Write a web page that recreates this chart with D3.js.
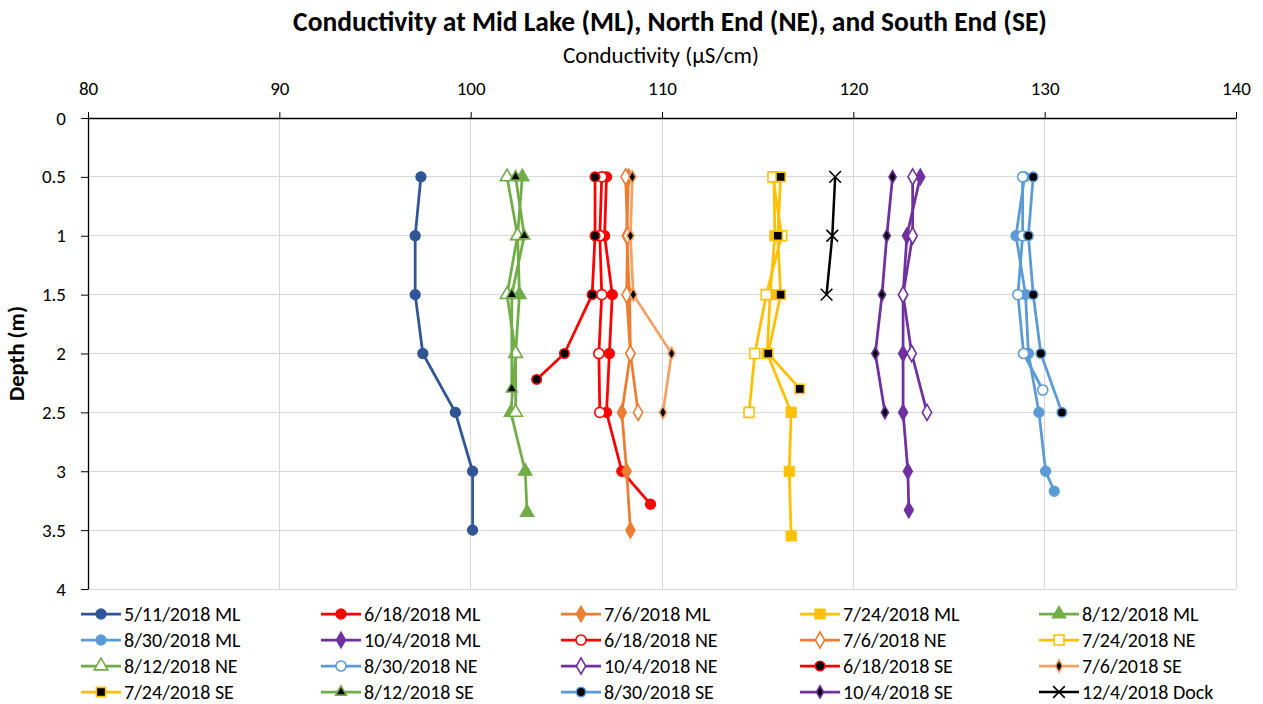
<!DOCTYPE html>
<html><head><meta charset="utf-8">
<script src="https://cdn.jsdelivr.net/npm/d3@7"></script>
<style>
html,body{margin:0;padding:0;background:#fff;}
svg text{font-family:Carlito, Calibri, Lato, sans-serif;fill:#000;}
</style></head>
<body><svg id="chart" width="1263" height="704"></svg>
<script>
// ---------- data ----------
const xTicks = [80, 90, 100, 110, 120, 130, 140];
const yTicks = [0, 0.5, 1, 1.5, 2, 2.5, 3, 3.5, 4];

const depth511ML = [0.5, 1, 1.5, 2, 2.5, 3, 3.5];
const cond511ML  = [97.4, 97.1, 97.1, 97.5, 99.2, 100.1, 100.1];

const depth618ML = [0.5, 1, 1.5, 2, 2.5, 3, 3.28];
const cond618ML  = [107.1, 107.0, 107.4, 107.25, 107.1, 107.9, 109.4];

const depth706ML = [0.5, 1, 1.5, 2, 2.5, 3, 3.5];
const cond706ML  = [108.25, 108.15, 108.3, 108.35, 107.9, 108.15, 108.35];

const depth724ML = [0.5, 1, 1.5, 2, 2.5, 3, 3.55];
const cond724ML  = [115.85, 115.9, 115.65, 115.5, 116.75, 116.65, 116.75];

const depth812ML = [0.5, 1, 1.5, 2, 2.5, 3, 3.35];
const cond812ML  = [102.7, 102.45, 102.55, 102.35, 102.1, 102.85, 102.95];

const depth830ML = [0.5, 1, 1.5, 2, 2.5, 3, 3.17];
const cond830ML  = [128.95, 128.5, 129.0, 129.15, 129.7, 130.05, 130.5];

const depth1004ML = [0.5, 1, 1.5, 2, 2.5, 3, 3.33];
const cond1004ML  = [123.5, 122.8, 122.6, 122.6, 122.6, 122.85, 122.9];

const depth618NE = [0.5, 1, 1.5, 2, 2.5];
const cond618NE  = [106.85, 106.75, 106.85, 106.7, 106.75];

const depth706NE = [0.5, 1, 1.5, 2, 2.5];
const cond706NE  = [108.1, 108.2, 108.15, 108.35, 108.75];

const depth724NE = [0.5, 1, 1.5, 2, 2.5];
const cond724NE  = [115.8, 116.25, 115.45, 114.85, 114.55];

const depth812NE = [0.5, 1, 1.5, 2, 2.5];
const cond812NE  = [101.9, 102.45, 101.9, 102.35, 102.35];

const depth830NE = [0.5, 1, 1.5, 2, 2.31];
const cond830NE  = [128.85, 128.85, 128.6, 128.9, 129.9];

const depth1004NE = [0.5, 1, 1.5, 2, 2.5];
const cond1004NE  = [123.1, 123.1, 122.6, 123.05, 123.85];

const depth618SE = [0.5, 1, 1.5, 2, 2.22];
const cond618SE  = [106.5, 106.5, 106.35, 104.9, 103.45];

const depth706SE = [0.5, 1, 1.5, 2, 2.5];
const cond706SE  = [108.45, 108.35, 108.5, 110.5, 110.05];

const depth724SE = [0.5, 1, 1.5, 2, 2.3];
const cond724SE  = [116.2, 116.05, 116.2, 115.55, 117.2];

const depth812SE = [0.5, 1, 1.5, 2.3];
const cond812SE  = [102.35, 102.8, 102.15, 102.15];

const depth830SE = [0.5, 1, 1.5, 2, 2.5];
const cond830SE  = [129.4, 129.15, 129.4, 129.8, 130.9];

const depth1004SE = [0.5, 1, 1.5, 2, 2.5];
const cond1004SE  = [122.05, 121.75, 121.5, 121.15, 121.65];

const depthDock = [0.5, 1, 1.5];
const condDock  = [119.05, 118.9, 118.6];

const seriesNames = ["5/11/2018 ML","6/18/2018 ML","7/6/2018 ML","7/24/2018 ML","8/12/2018 ML",
  "8/30/2018 ML","10/4/2018 ML","6/18/2018 NE","7/6/2018 NE","7/24/2018 NE",
  "8/12/2018 NE","8/30/2018 NE","10/4/2018 NE","6/18/2018 SE","7/6/2018 SE",
  "7/24/2018 SE","8/12/2018 SE","8/30/2018 SE","10/4/2018 SE","12/4/2018 Dock"];
const seriesDepths = [depth511ML,depth618ML,depth706ML,depth724ML,depth812ML,depth830ML,depth1004ML,
  depth618NE,depth706NE,depth724NE,depth812NE,depth830NE,depth1004NE,
  depth618SE,depth706SE,depth724SE,depth812SE,depth830SE,depth1004SE,depthDock];
const seriesConds = [cond511ML,cond618ML,cond706ML,cond724ML,cond812ML,cond830ML,cond1004ML,
  cond618NE,cond706NE,cond724NE,cond812NE,cond830NE,cond1004NE,
  cond618SE,cond706SE,cond724SE,cond812SE,cond830SE,cond1004SE,condDock];
const seriesColors = ["#2F5597","#FF0000","#ED7D31","#FFC000","#70AD47","#5B9BD5","#7030A0",
  "#FF0000","#ED7D31","#FFC000","#70AD47","#5B9BD5","#7030A0",
  "#FF0000","#F4A163","#FFC000","#70AD47","#5B9BD5","#7030A0","#000000"];
const seriesMarkers = ["circle","circle","diamond","square","triangle","circle","diamond",
  "circle","diamond","square","triangle","circle","diamond",
  "circle","diamond","square","triangle","circle","diamond","x"];
const seriesFills = ["solid","solid","solid","solid","solid","solid","solid",
  "open","open","open","open","open","open",
  "black","black","black","black","black","black","none"];

// ---------- layout ----------
const m = {left: 88, right: 1236, top: 118, bottom: 589};
const svg = d3.select("#chart");
const x = d3.scaleLinear().domain([80, 140]).range([m.left, m.right]);
const y = d3.scaleLinear().domain([0, 4]).range([m.top, m.bottom]);

// grid
svg.append("g").selectAll("line").data(xTicks.slice(1)).join("line")
  .attr("x1", d => x(d)).attr("x2", d => x(d)).attr("y1", m.top).attr("y2", m.bottom)
  .attr("stroke", "#D9D9D9").attr("stroke-width", 1).attr("shape-rendering","crispEdges");
svg.append("g").selectAll("line").data(yTicks.slice(1)).join("line")
  .attr("x1", m.left).attr("x2", m.right).attr("y1", d => y(d)).attr("y2", d => y(d))
  .attr("stroke", "#D9D9D9").attr("stroke-width", 1).attr("shape-rendering","crispEdges");

// axes
const xAxis = d3.axisTop(x).tickValues(xTicks).tickSizeInner(6).tickSizeOuter(0);
const gx = svg.append("g").attr("transform", `translate(0,${m.top})`).call(xAxis);
gx.select(".domain").attr("stroke", "#000").attr("stroke-width", 1.3);
gx.selectAll(".tick line").attr("stroke", "#000");
gx.selectAll(".tick text").attr("font-size", 19).attr("fill", "#000").attr("y", -23);

const yAxis = d3.axisLeft(y).tickValues(yTicks).tickSizeInner(7).tickSizeOuter(0)
  .tickFormat(d => String(d));
const gy = svg.append("g").attr("transform", `translate(${m.left},0)`).call(yAxis);
gy.select(".domain").attr("stroke", "#000").attr("stroke-width", 1.3);
gy.selectAll(".tick line").attr("stroke", "#000");
gy.selectAll(".tick text").attr("font-size", 19).attr("fill", "#000").attr("x", -22);

// titles
svg.append("text").attr("x", 670).attr("y", 31).attr("text-anchor", "middle")
  .attr("font-size", 27.5).attr("font-weight", "bold")
  .text("Conductivity at Mid Lake (ML), North End (NE), and South End (SE)");
svg.append("text").attr("x", 661).attr("y", 63).attr("text-anchor", "middle")
  .attr("font-size", 23).text("Conductivity (µS/cm)");
svg.append("text").attr("transform", `translate(24,${(m.top+m.bottom)/2}) rotate(-90)`)
  .attr("text-anchor", "middle").attr("font-size", 22.5).attr("font-weight", "bold")
  .text("Depth (m)");

// symbols
function symbolFor(marker, fill) {
  const small = fill === "black";
  if (marker === "circle") return d3.symbol(d3.symbolCircle, small ? 70 : 80);
  if (marker === "square") return d3.symbol(d3.symbolSquare, small ? 85 : 100);
  if (marker === "triangle") return d3.symbol(d3.symbolTriangle, small ? 50 : 80);
  if (marker === "diamond") return d3.symbol(d3.symbolDiamond, small ? 45 : 75);
  return d3.symbol(d3.symbolTimes, 90);
}
function styleMarker(sel, color, marker, fill) {
  if (marker === "x") {
    sel.attr("fill", "none").attr("stroke", color).attr("stroke-width", 1.6);
  } else if (fill === "solid") {
    sel.attr("fill", color).attr("stroke", color).attr("stroke-width", 1.2);
  } else if (fill === "open") {
    sel.attr("fill", "#fff").attr("stroke", color).attr("stroke-width", 1.6);
  } else {
    sel.attr("fill", "#000").attr("stroke", color).attr("stroke-width", 1.6);
  }
}

const line = d3.line().x(d => x(d.c)).y(d => y(d.d));
const plot = svg.append("g");
seriesNames.forEach((name, i) => {
  const pts = seriesDepths[i].map((d, k) => ({d: d, c: seriesConds[i][k]}));
  const g = plot.append("g");
  g.append("path").datum(pts).attr("d", line).attr("fill", "none")
    .attr("stroke", seriesColors[i]).attr("stroke-width", i === 19 ? 2.5 : 2.75)
    .attr("stroke-linejoin", "round");
  const sym = symbolFor(seriesMarkers[i], seriesFills[i]);
  g.selectAll("path.mk").data(pts).join("path").attr("class", "mk")
    .attr("d", sym).attr("transform", p => `translate(${x(p.c)},${y(p.d)})`)
    .call(styleMarker, seriesColors[i], seriesMarkers[i], seriesFills[i]);
});

// legend
const legCols = [81, 321, 561, 800, 1039];
const legRows = [614, 640, 666, 692];
const leg = svg.append("g");
seriesNames.forEach((name, i) => {
  const cx = legCols[i % 5], cy = legRows[Math.floor(i / 5)];
  const g = leg.append("g").attr("transform", `translate(${cx},${cy})`);
  g.append("line").attr("x1", 0).attr("x2", 40).attr("y1", 0).attr("y2", 0)
    .attr("stroke", seriesColors[i]).attr("stroke-width", i === 19 ? 2.5 : 2.75);
  g.append("path").attr("d", symbolFor(seriesMarkers[i], seriesFills[i]))
    .attr("transform", "translate(20,0)")
    .call(styleMarker, seriesColors[i], seriesMarkers[i], seriesFills[i]);
  g.append("text").attr("x", 43).attr("y", 0).attr("dy", "0.35em")
    .attr("font-size", 20).text(name);
});
</script></body></html>
